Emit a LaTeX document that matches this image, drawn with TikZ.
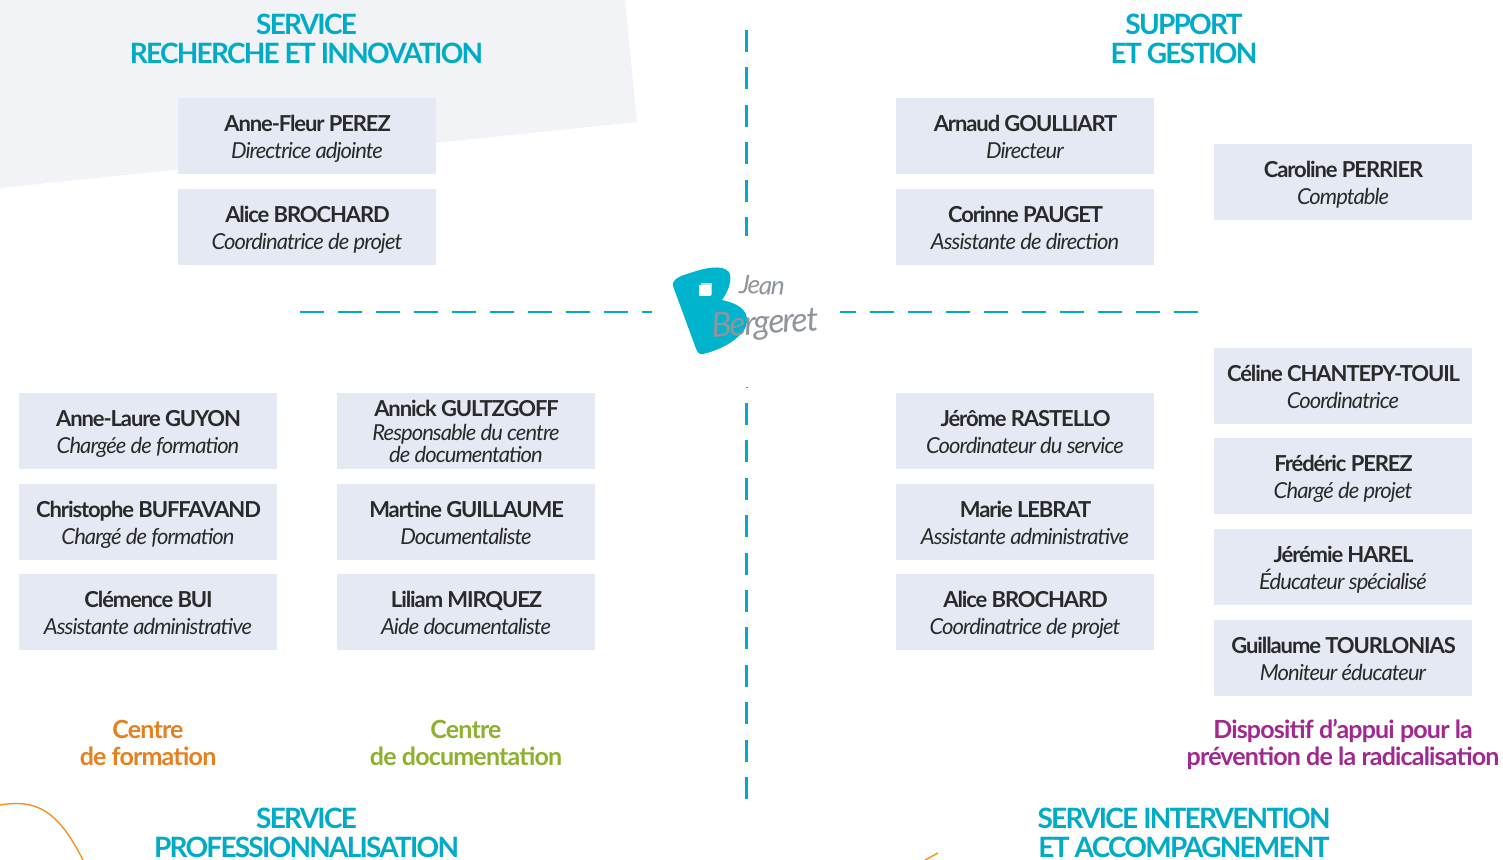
\documentclass[tikz,border=0pt]{standalone}
\usepackage{fontspec}
\setmainfont{Lato}[LetterSpace=-5]
\newfontfamily\rolefont{Lato}[LetterSpace=-4.3]
\newfontfamily\titrefont{Lato}[LetterSpace=-6.3]
\newfontfamily\polefont{Lato}[LetterSpace=-3.3]
\definecolor{bleu}{HTML}{00ABC8}
\definecolor{fond}{HTML}{E4E9F4}
\definecolor{voile}{HTML}{F1F3F7}
\definecolor{gris}{HTML}{8F959B}
\definecolor{orange}{HTML}{E5801F}
\definecolor{trait}{HTML}{F39222}
\definecolor{vert}{HTML}{8DB02F}
\definecolor{violet}{HTML}{A0288F}
\definecolor{encre}{HTML}{2A2A2A}
\newcommand{\pers}[2]{\textbf{\rule{0pt}{11.3pt}#1}\\{\rolefont\itshape\vphantom{Ap}#2}}
\tikzset{
  personbox/.style={fill=fond, text=encre, minimum width=129pt, minimum height=38pt, inner sep=0pt,
    align=center, font=\fontsize{11}{13.5}\selectfont},
  titre/.style={text=bleu, align=center, inner sep=0pt, font=\fontsize{14}{14.5}\selectfont\titrefont\bfseries},
  pole/.style={align=center, inner sep=0pt, font=\fontsize{12.5}{13.5}\selectfont\polefont\bfseries},
  tiretsv/.style={bleu, line width=1.3pt, dash pattern=on 11pt off 7.7pt},
  tiretsh/.style={bleu, line width=1.3pt, dash pattern=on 12pt off 7pt},
}
\begin{document}
\begin{tikzpicture}[x=.5pt, y=-.5pt]
  \useasboundingbox (0,0) rectangle (1503,860);
  \fill[voile] (0,0) -- (625,0) -- (637,122) -- (0,188) -- cycle;
  \draw[trait, line width=.7pt] (0,805) .. controls (40,798) and (60,815) .. (83,860);
  \draw[trait, line width=.7pt] (925,860) -- (938,853);
  % titres
  \node[titre] (rech) at (306.5,39) {SERVICE\\RECHERCHE ET INNOVATION};
  \node[titre] (supp) at (1184,39) {SUPPORT\\ET GESTION};
  \node[titre] (prof) at (306.5,833) {SERVICE\\PROFESSIONNALISATION};
  \node[titre] (inter) at (1184,833) {SERVICE INTERVENTION\\ET ACCOMPAGNEMENT};
  % personnes
  \node[personbox] (perez) at (307,136) {\pers{Anne-Fleur PEREZ}{Directrice adjointe}};
  \node[personbox] (broch) at (307,227) {\pers{Alice BROCHARD}{Coordinatrice de projet}};
  \node[personbox] (goul) at (1025,136) {\pers{Arnaud GOULLIART}{Directeur}};
  \node[personbox] (pauget) at (1025,227) {\pers{Corinne PAUGET}{Assistante de direction}};
  \node[personbox] (perrier) at (1343,182) {\pers{Caroline PERRIER}{Comptable}};
  \node[personbox] (guyon) at (148,431) {\pers{Anne-Laure GUYON}{Chargée de formation}};
  \node[personbox] (buff) at (148,522) {\pers{Christophe BUFFAVAND}{Chargé de formation}};
  \node[personbox] (bui) at (148,612) {\pers{Clémence BUI}{Assistante administrative}};
  \node[personbox, font=\fontsize{11}{11}\selectfont] (gult) at (466,431) {\textbf{Annick GULTZGOFF}\\[1pt]{\rolefont\itshape Responsable du centre}\\{\rolefont\itshape de documentation}};
  \node[personbox] (guill) at (466,522) {\pers{Martine GUILLAUME}{Documentaliste}};
  \node[personbox] (mirq) at (466,612) {\pers{Liliam MIRQUEZ}{Aide documentaliste}};
  \node[personbox] (rast) at (1025,431) {\pers{Jérôme RASTELLO}{Coordinateur du service}};
  \node[personbox] (lebrat) at (1025,522) {\pers{Marie LEBRAT}{Assistante administrative}};
  \node[personbox] (broch2) at (1025,612) {\pers{Alice BROCHARD}{Coordinatrice de projet}};
  \node[personbox] (chant) at (1343,386) {\pers{Céline CHANTEPY-TOUIL}{Coordinatrice}};
  \node[personbox] (perez2) at (1343,476) {\pers{Frédéric PEREZ}{Chargé de projet}};
  \node[personbox] (harel) at (1343,567) {\pers{Jérémie HAREL}{Éducateur spécialisé}};
  \node[personbox] (tourl) at (1343,658) {\pers{Guillaume TOURLONIAS}{Moniteur éducateur}};
  % poles
  \node[pole, text=orange] (form) at (148,743) {Centre\\de formation};
  \node[pole, text=vert] (docu) at (466,743) {Centre\\de documentation};
  \node[pole, text=violet] (disp) at (1343,744) {Dispositif d’appui pour la\\prévention de la radicalisation};
  % axes
  \coordinate (hauta) at (746.5,30);
  \coordinate (hautb) at (746.5,236);
  \coordinate (basa) at (746.5,403);
  \coordinate (basb) at (746.5,799);
  \coordinate (gauchea) at (300,312);
  \coordinate (gaucheb) at (652,312);
  \coordinate (droitea) at (1198,312);
  \coordinate (droiteb) at (840,312);
  \draw[tiretsv] (hauta) -- (hautb);
  \draw[tiretsv] (basa) -- (basb);
  \draw[tiretsh] (gauchea) -- (gaucheb);
  \draw[tiretsh] (droitea) -- (droiteb);
  \fill[bleu] (746,387) rectangle (747.5,388.5);
  % logo
  \fill[bleu!90!cyan] (673,286) .. controls (672,279) and (680,276) .. (690,273)
    .. controls (705,268) and (722,264) .. (729,272)
    .. controls (733,279) and (728,292) .. (722,300)
    .. controls (735,303) and (748,308) .. (747,322)
    .. controls (746,335) and (725,349) .. (703,354)
    .. controls (698,355) and (697,351) .. (695,346) -- cycle;
  \fill[gris!40] (701,283) rectangle (712,295);
  \fill[white] (699,285) rectangle (710.5,296);
  \node[text=gris, inner sep=0pt, font=\fontsize{13}{13}\selectfont\itshape, rotate=-3] (jean) at (762,285) {Jean};
  \node[text=gris, inner sep=0pt, font=\fontsize{17}{17}\selectfont\itshape, rotate=4] (berg) at (765,325) {Bergeret};
\end{tikzpicture}
\end{document}
